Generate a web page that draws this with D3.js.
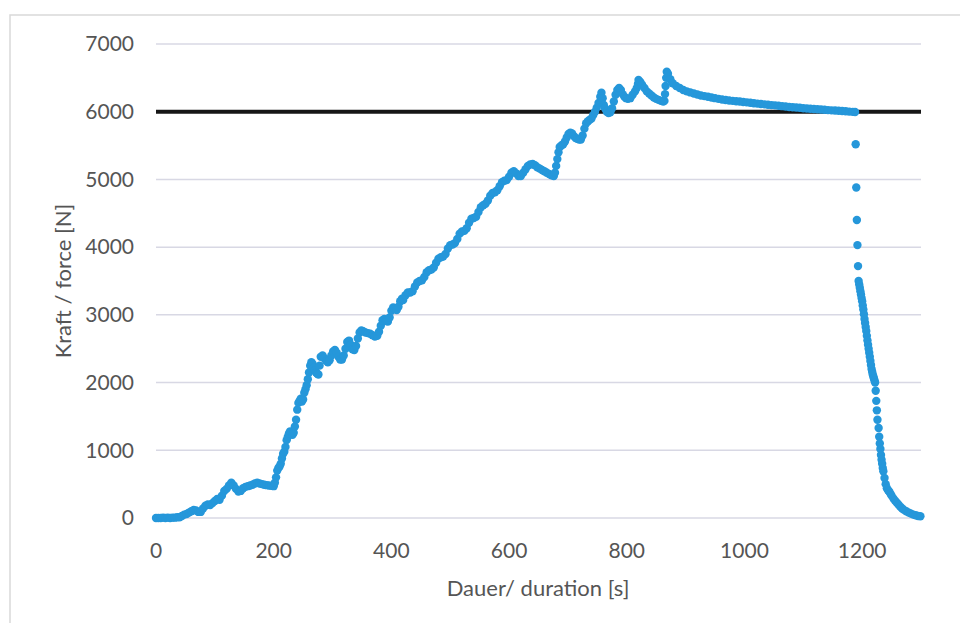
<!DOCTYPE html>
<html lang="de">
<head>
<meta charset="UTF-8">
<title>Kraft / Dauer</title>
<script src="https://d3js.org/d3.v7.min.js"></script>
<style>
    body { margin: 0; background: #fff; }
    text { font-family: Lato, 'Open Sans', sans-serif; fill: #555; }
</style>
</head>
<body>
<script>
    const width = 960;
    const height = 623;
    const margin = {left: 156, right: 39, top: 44, bottom: 105};

    const xTicks = [0, 200, 400, 600, 800, 1000, 1200];
    const yTicks = [0, 1000, 2000, 3000, 4000, 5000, 6000, 7000];
    const limitForce = 6000;

    // time [s] and force [N]
    const seconds = [
        0, 4, 8, 12, 16, 20, 24, 28, 32, 36, 40, 44, 48, 52, 56, 60, 64, 68, 72, 76,
        80, 84, 88, 92, 96, 100, 104, 108, 112, 116, 120, 124, 128, 132, 136, 140, 144, 148, 152, 156,
        160, 164, 168, 172, 176, 180, 184, 188, 192, 196, 200, 202, 204, 206, 208, 210, 212, 214, 216, 218,
        220, 222, 224, 226, 228, 230, 232, 234, 236, 238, 240, 242, 244, 246, 248, 250, 252, 254, 256, 258,
        260, 262, 264, 266, 268, 270, 272, 274, 276, 278, 280, 283, 286, 289, 292, 295, 298, 301, 304, 307,
        310, 313, 316, 319, 322, 325, 328, 331, 334, 337, 340, 343, 346, 349, 352, 356, 360, 364, 368, 372,
        376, 379, 382, 385, 388, 391, 394, 397, 400, 403, 406, 409, 412, 415, 418, 420, 424, 428, 432, 436,
        440, 444, 448, 452, 456, 460, 464, 468, 472, 476, 480, 484, 488, 492, 496, 500, 504, 508, 512, 516,
        520, 524, 528, 532, 536, 540, 544, 548, 552, 556, 560, 564, 568, 572, 576, 580, 584, 588, 592, 596,
        600, 604, 608, 612, 616, 620, 624, 628, 632, 636, 640, 644, 648, 652, 656, 660, 664, 668, 672, 676,
        678, 680, 682, 684, 686, 689, 692, 695, 698, 701, 704, 707, 710, 713, 716, 719, 722, 725, 728, 731,
        734, 737, 740, 743, 746, 749, 752, 755, 757, 759, 761, 763, 766, 769, 772, 775, 778, 781, 784, 787,
        790, 793, 796, 799, 802, 806, 810, 814, 817, 819, 820, 823, 826, 830, 834, 838, 842, 846, 850, 854,
        858, 862, 864, 865, 866, 867, 868, 870, 874, 878, 884, 890, 896, 902, 908, 914, 920, 926, 932, 938,
        944, 950, 956, 962, 968, 974, 980, 986, 992, 998, 1004, 1010, 1016, 1022, 1028, 1034, 1040, 1046, 1052, 1058,
        1064, 1070, 1076, 1082, 1088, 1094, 1100, 1106, 1112, 1118, 1124, 1130, 1136, 1142, 1148, 1154, 1160, 1166, 1172, 1178,
        1184, 1188, 1189, 1190, 1191, 1192, 1193, 1194, 1195, 1196, 1197, 1198, 1199, 1200, 1201, 1202, 1203, 1204, 1205, 1206,
        1207, 1208, 1209, 1210, 1211, 1212, 1213, 1214, 1215, 1216, 1217, 1218, 1219, 1220, 1221, 1222, 1223, 1224, 1225, 1226,
        1228, 1229, 1230, 1231, 1232, 1233, 1234, 1235, 1236, 1238, 1240, 1242, 1244, 1246, 1248, 1250, 1253, 1256, 1259, 1262,
        1265, 1268, 1271, 1275, 1279, 1283, 1287, 1291, 1295, 1299
    ];
    const forceN = [
        0, 0, 0, 5, 0, 5, 0, 5, 5, 10, 10, 30, 50, 60, 80, 100, 120, 110, 90, 90,
        140, 180, 200, 190, 220, 250, 280, 270, 330, 400, 430, 480, 520, 480, 430, 390, 400, 440, 460, 470,
        480, 490, 510, 520, 510, 500, 490, 485, 480, 475, 470, 520, 600, 700, 740, 760, 800, 880, 950, 980,
        1050, 1150, 1200, 1250, 1280, 1270, 1230, 1260, 1350, 1450, 1600, 1700, 1730, 1760, 1720, 1750, 1850, 1900, 1960, 2050,
        2150, 2250, 2300, 2280, 2220, 2180, 2150, 2130, 2120, 2250, 2380, 2400, 2360, 2320, 2300, 2330, 2400, 2460, 2480, 2440,
        2380, 2340, 2340, 2400, 2500, 2600, 2620, 2560, 2490, 2480, 2540, 2650, 2740, 2770, 2760, 2740, 2730, 2720, 2700, 2680,
        2690, 2750, 2840, 2920, 2940, 2910, 2900, 2960, 3060, 3110, 3090, 3070, 3120, 3200, 3240, 3220, 3290, 3330, 3330, 3350,
        3420, 3480, 3500, 3510, 3560, 3630, 3660, 3670, 3700, 3770, 3830, 3850, 3860, 3900, 3980, 4030, 4040, 4060, 4120, 4200,
        4230, 4240, 4280, 4360, 4420, 4430, 4450, 4520, 4590, 4620, 4640, 4690, 4760, 4800, 4810, 4840, 4900, 4960, 4980, 4990,
        5040, 5100, 5120, 5090, 5050, 5050, 5100, 5150, 5200, 5220, 5230, 5210, 5180, 5160, 5140, 5120, 5100, 5080, 5060, 5050,
        5100, 5200, 5300, 5400, 5480, 5500, 5520, 5560, 5620, 5670, 5690, 5680, 5640, 5610, 5600, 5590, 5590, 5650, 5750, 5830,
        5860, 5880, 5900, 5950, 6000, 6060, 6130, 6220, 6280, 6200, 6100, 6050, 6000, 5980, 5990, 6050, 6150, 6250, 6320, 6350,
        6320, 6260, 6220, 6200, 6190, 6200, 6250, 6300, 6350, 6410, 6470, 6440, 6400, 6350, 6300, 6270, 6240, 6210, 6190, 6175,
        6160, 6150, 6160, 6260, 6380, 6500, 6590, 6560, 6480, 6420, 6380, 6350, 6320, 6300, 6285, 6270, 6255, 6240, 6230, 6220,
        6210, 6200, 6190, 6180, 6172, 6165, 6160, 6155, 6150, 6144, 6138, 6132, 6126, 6120, 6114, 6108, 6102, 6098, 6094, 6088,
        6082, 6076, 6070, 6066, 6062, 6058, 6052, 6048, 6044, 6040, 6036, 6032, 6028, 6024, 6020, 6017, 6014, 6010, 6006, 6002,
        5998, 5995, 5520, 4880, 4400, 4030, 3720, 3500, 3450, 3400, 3350, 3300, 3250, 3200, 3140, 3080, 3010, 2940, 2880, 2820,
        2760, 2690, 2620, 2560, 2500, 2440, 2380, 2320, 2260, 2200, 2160, 2120, 2090, 2060, 2030, 2000, 1880, 1730, 1590, 1450,
        1330, 1200, 1100, 1020, 930, 860, 800, 740, 690, 590, 500, 440, 410, 390, 360, 330, 290, 255, 225, 195,
        165, 140, 120, 100, 80, 65, 50, 40, 30, 25
    ];

    const points = seconds.map((t, i) => ({t: t, f: forceN[i]}));

    const svg = d3.select("body").append("svg")
        .attr("width", width).attr("height", height);

    // chart frame
    svg.append("rect")
        .attr("x", 10).attr("y", 15)
        .attr("width", 960).attr("height", 640)
        .attr("fill", "none").attr("stroke", "#d9d9d9").attr("stroke-width", 1.5);

    const x = d3.scaleLinear().domain([0, 1300]).range([margin.left, width - margin.right]);
    const y = d3.scaleLinear().domain([0, 7000]).range([height - margin.bottom, margin.top]);

    // gridlines
    svg.append("g")
        .selectAll("line")
        .data(yTicks)
        .join("line")
        .attr("x1", x(0)).attr("x2", x(1300))
        .attr("y1", d => y(d)).attr("y2", d => y(d))
        .attr("stroke", "#d8d8e4").attr("stroke-width", 1.5);

    // tick labels
    svg.append("g")
        .selectAll("text")
        .data(yTicks)
        .join("text")
        .attr("x", x(0) - 22)
        .attr("y", d => y(d))
        .attr("dy", "0.35em")
        .attr("text-anchor", "end")
        .style("font-size", "21px")
        .text(d => d);

    svg.append("g")
        .selectAll("text")
        .data(xTicks)
        .join("text")
        .attr("x", d => x(d))
        .attr("y", y(0) + 33)
        .attr("dy", "0.35em")
        .attr("text-anchor", "middle")
        .style("font-size", "21px")
        .text(d => d);

    // axis titles
    svg.append("text")
        .attr("x", 538).attr("y", 588)
        .attr("dy", "0.35em")
        .attr("text-anchor", "middle")
        .style("font-size", "22px")
        .text("Dauer/ duration [s]");

    svg.append("text")
        .attr("transform", "translate(63,281) rotate(-90)")
        .attr("dy", "0.35em")
        .attr("text-anchor", "middle")
        .style("font-size", "22px")
        .text("Kraft / force [N]");

    // limit line
    svg.append("line")
        .attr("x1", x(0)).attr("x2", x(1300))
        .attr("y1", y(limitForce)).attr("y2", y(limitForce))
        .attr("stroke", "#161616").attr("stroke-width", 4);

    // measured points
    svg.append("g")
        .selectAll("circle")
        .data(points)
        .join("circle")
        .attr("cx", d => x(d.t))
        .attr("cy", d => y(d.f))
        .attr("r", 4.2)
        .attr("fill", "#2597da");
</script>
</body>
</html>
